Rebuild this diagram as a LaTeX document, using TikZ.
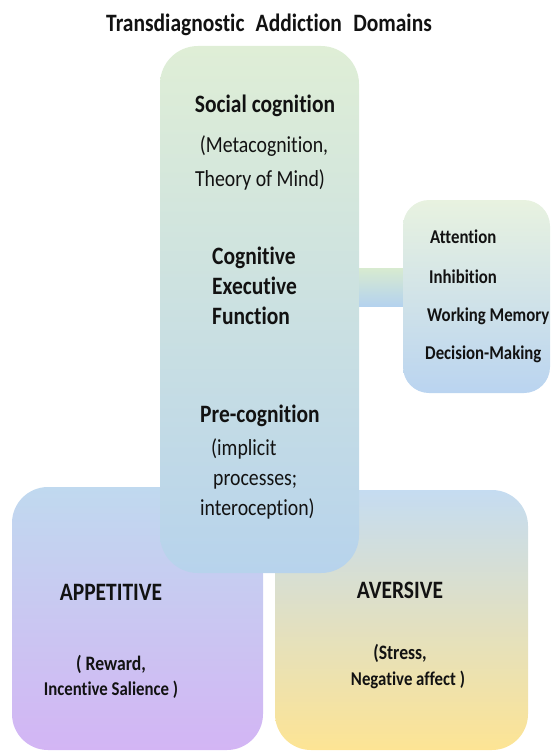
\documentclass[tikz,border=0pt]{standalone}
\usepackage{fontspec}
\setmainfont{Carlito}[FakeStretch=0.86,Ligatures={NoCommon}]
\definecolor{cgtop}{RGB}{223,238,214}
\definecolor{cgmid}{RGB}{203,225,224}
\definecolor{cgbot}{RGB}{183,211,236}
\definecolor{sdtop}{RGB}{232,242,224}
\definecolor{sdmid}{RGB}{200,222,236}
\definecolor{sdbot}{RGB}{186,212,240}
\definecolor{bartop}{RGB}{216,235,208}
\definecolor{barbot}{RGB}{180,210,238}
\definecolor{aptop}{RGB}{192,217,239}
\definecolor{apmid}{RGB}{200,203,242}
\definecolor{apbot}{RGB}{211,181,244}
\definecolor{avtop}{RGB}{197,220,241}
\definecolor{avmid}{RGB}{222,224,196}
\definecolor{avbot}{RGB}{253,228,148}
\definecolor{ink}{RGB}{18,18,18}
\begin{document}
\begin{tikzpicture}[x=1pt,y=-1pt,
  lbl/.style={inner sep=0pt,anchor=base,text=ink},
  bigb/.style={lbl,font=\fontsize{25}{29}\selectfont\bfseries},
  midr/.style={lbl,font=\fontsize{23}{27}\selectfont},
  smallb/.style={lbl,font=\fontsize{19.5}{23}\selectfont\bfseries},
  paren/.style={lbl,font=\fontsize{20.5}{24}\selectfont\bfseries},
  leftb/.style={anchor=base west},
]
\useasboundingbox (0,0) rectangle (554,752);

% bottom domains
\shade[top color=aptop, middle color=apmid, bottom color=apbot,
       rounded corners=36pt] (12,487) rectangle (263,750);
\shade[top color=avtop, middle color=avmid, bottom color=avbot,
       rounded corners=36pt] (275,490) rectangle (528,750);
\node (appbox) at (137,618) {};
\node (avbox) at (401,620) {};

% central column
\shade[top color=cgtop, middle color=cgmid, bottom color=cgbot,
       rounded corners=38pt] (160,46) rectangle (359,573);
\node (central) at (259,310) {};

% side box and link bar
\shade[top color=bartop, bottom color=barbot] (359,268) rectangle (405,306);
\shade[top color=sdtop, middle color=sdmid, bottom color=sdbot,
       rounded corners=26pt] (403,200) rectangle (550,393);
\node (side) at (476,296) {};

% title
\node[bigb] (title) at (269,32) {Transdiagnostic\hspace{0.45em}Addiction\hspace{0.45em}Domains};

% central labels
\node[bigb] (soc) at (265,112) {Social cognition};
\node[midr] (soc1) at (264,152) {(Metacognition,};
\node[midr] (soc2) at (260,186) {Theory of Mind)};
\node[bigb,leftb] (cef1) at (212,264) {Cognitive};
\node[bigb,leftb] (cef2) at (212,294) {Executive};
\node[bigb,leftb] (cef3) at (212,324) {Function};
\node[bigb] (pre) at (260,422) {Pre-cognition};
\node[midr,leftb] (pre1) at (211,455) {(implicit};
\node[midr,leftb] (pre2) at (213,485) {processes;};
\node[midr,leftb] (pre3) at (200,515) {interoception)};

% side labels
\node[smallb,leftb] (att) at (430,243) {Attention};
\node[smallb,leftb] (inh) at (429,283) {Inhibition};
\node[smallb,leftb] (wm) at (427,321) {Working Memory};
\node[smallb,leftb] (dm) at (425,359) {Decision-Making};

% bottom labels
\node[bigb] (app) at (111,600) {APPETITIVE};
\node[paren] (app1) at (111,670) {( Reward,};
\node[smallb] (app2) at (111,695) {Incentive Salience )};
\node[bigb] (av) at (400,598) {AVERSIVE};
\node[paren] (av1) at (400,659) {(Stress,};
\node[smallb] (av2) at (408,685) {Negative affect )};
\end{tikzpicture}
\end{document}
